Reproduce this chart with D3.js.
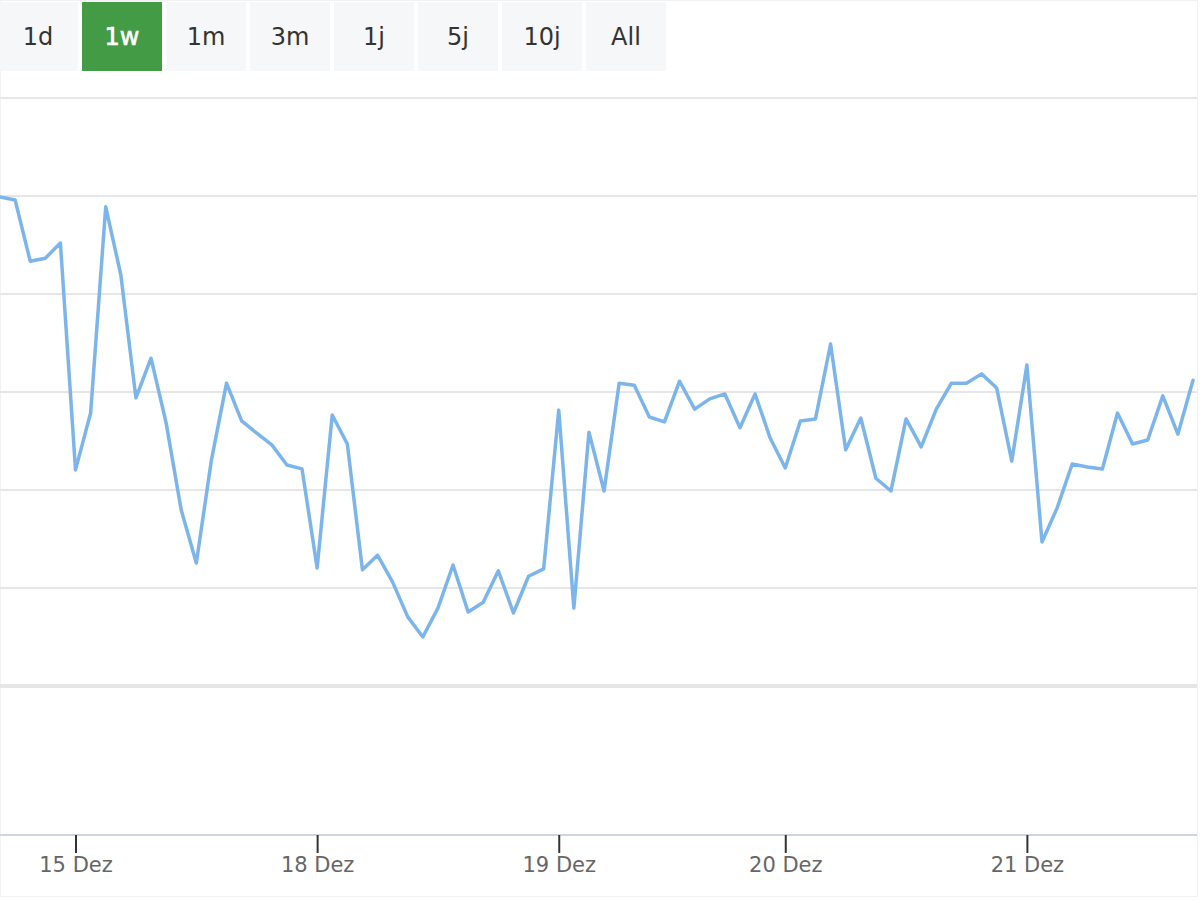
<!DOCTYPE html>
<html>
    <head>
        <meta charset="utf-8">
        <script src="https://d3js.org/d3.v7.min.js"></script>
        <style>
            body { margin:0; background:#fff; }
            text { font-family: "DejaVu Sans", sans-serif; }
        </style>
    </head>
    <body>
        <script>
            // range selector buttons
            var buttons = ["1d", "1w", "1m", "3m", "1j", "5j", "10j", "All"];
            var activeButton = "1w";

            // price per sample (index = sample number)
            var prices = [
                9.998, 9.992, 9.867, 9.873, 9.904, 9.441, 9.557, 9.978, 9.839, 9.588,
                9.669, 9.537, 9.359, 9.251, 9.461, 9.618, 9.541, 9.516, 9.492, 9.451,
                9.443, 9.241, 9.553, 9.494, 9.237, 9.267, 9.212, 9.141, 9.100, 9.159,
                9.247, 9.151, 9.171, 9.235, 9.149, 9.224, 9.239, 9.563, 9.159, 9.518,
                9.398, 9.618, 9.614, 9.549, 9.539, 9.622, 9.565, 9.586, 9.596, 9.527,
                9.596, 9.506, 9.445, 9.541, 9.545, 9.698, 9.482, 9.547, 9.424, 9.398,
                9.545, 9.488, 9.565, 9.618, 9.618, 9.637, 9.608, 9.459, 9.655, 9.294,
                9.363, 9.453, 9.447, 9.443, 9.557, 9.494, 9.502, 9.592, 9.514, 9.624
            ];

            // day ticks: sample index of each day start and its label
            var tickIndex = [5, 21, 37, 52, 68];
            var tickLabels = ["15 Dez", "18 Dez", "19 Dez", "20 Dez", "21 Dez"];

            var gridValues = [9.2, 9.4, 9.6, 9.8, 10.0, 10.2];

            var width = 1200,
                height = 900;

            var svg = d3.select("body").append("svg")
                    .attr("width", width)
                    .attr("height", height);

            // faint outer frame
            svg.append("rect")
                    .attr("x", 0.5).attr("y", 0.5)
                    .attr("width", 1197).attr("height", 896)
                    .attr("fill", "none")
                    .attr("stroke", "#f2f2f2");

            var x = d3.scaleLinear()
                    .domain([0, prices.length - 1])
                    .range([0, 1193]);

            var y = d3.scaleLinear()
                    .domain([9.0, 10.2])
                    .range([686, 98]);

            // buttons
            var btn = svg.selectAll("g.btn")
                    .data(buttons)
                    .enter().append("g")
                    .attr("class", "btn")
                    .attr("transform", function (d, i) {
                        return "translate(" + (-2 + 84 * i) + ",2)";
                    });

            btn.append("rect")
                    .attr("width", 80)
                    .attr("height", 69)
                    .attr("fill", function (d) {
                        return d === activeButton ? "#449b45" : "#f6f7f9";
                    });

            btn.append("text")
                    .attr("x", 40)
                    .attr("y", 43)
                    .attr("text-anchor", "middle")
                    .style("font-size", "24px")
                    .attr("fill", function (d) {
                        return d === activeButton ? "#fff" : "#333";
                    })
                    .attr("stroke", function (d) {
                        return d === activeButton ? "#fff" : "none";
                    })
                    .attr("stroke-width", 0.6)
                    .text(function (d) { return d; });

            // horizontal grid
            svg.append("g")
                    .selectAll("line")
                    .data(gridValues)
                    .enter().append("line")
                    .attr("x1", 0).attr("x2", 1197)
                    .attr("y1", function (d) { return y(d); })
                    .attr("y2", function (d) { return y(d); })
                    .attr("stroke", "#e6e6e6")
                    .attr("stroke-width", 2);

            // pane separator
            svg.append("line")
                    .attr("x1", 0).attr("x2", 1197)
                    .attr("y1", y(9.0)).attr("y2", y(9.0))
                    .attr("stroke", "#e6e6e6")
                    .attr("stroke-width", 4);

            var line = d3.line()
                    .x(function (d, i) { return x(i); })
                    .y(function (d) { return y(d); });

            svg.append("path")
                    .datum(prices)
                    .attr("d", line)
                    .attr("fill", "none")
                    .attr("stroke", "#7cb5ec")
                    .attr("stroke-width", 3.5)
                    .attr("stroke-linejoin", "round")
                    .attr("stroke-linecap", "round");

            // x axis
            var xAxis = d3.axisBottom(x)
                    .tickValues(tickIndex)
                    .tickFormat(function (d, i) { return tickLabels[i]; })
                    .tickSize(18)
                    .tickPadding(4);

            var gx = svg.append("g")
                    .attr("class", "axis axis--x")
                    .attr("transform", "translate(0,835)")
                    .call(xAxis);

            gx.select(".domain")
                    .attr("d", "M0,0H1197")
                    .attr("stroke", "#ccd6eb")
                    .attr("stroke-width", 2);

            gx.selectAll(".tick line")
                    .attr("stroke", "#333")
                    .attr("stroke-width", 2);

            gx.selectAll(".tick text")
                    .attr("fill", "#666")
                    .style("font-size", "21px")
                    .style("font-family", "DejaVu Sans, sans-serif");
        </script>
    </body>
</html>
